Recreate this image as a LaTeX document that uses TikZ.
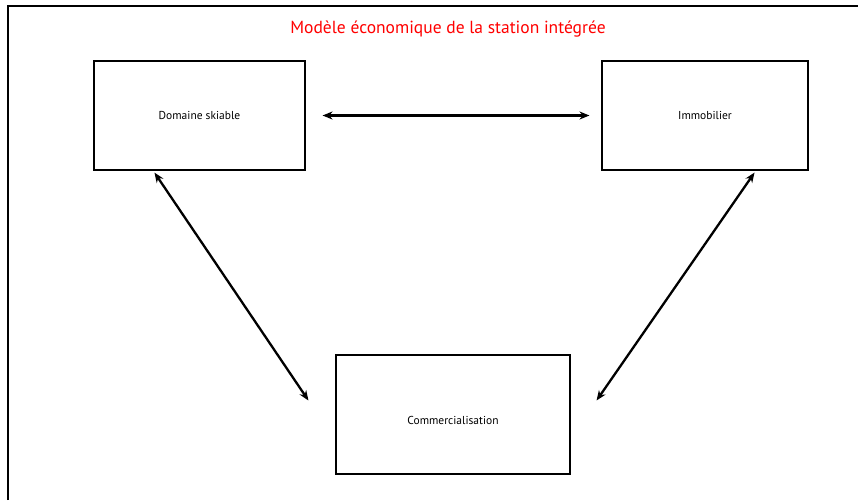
\documentclass[tikz,border=0pt]{standalone}
\usepackage{fontspec}
\setmainfont{PT Sans}
\usetikzlibrary{arrows.meta}

\begin{document}
\begin{tikzpicture}[x=1pt,y=-1pt,
    bloc/.style={draw,line width=1.1pt,inner sep=0pt,font=\fontsize{11.5}{13}\selectfont},
    lien/.style={line width=2.3pt,{Stealth[length=10pt,width=8pt]}-{Stealth[length=10pt,width=8pt]}}]
  \useasboundingbox (0,0) rectangle (858,500);
  \draw[line width=1.3pt] (8,500) -- (8,6) -- (858,6);

  \node[text=red,font=\fontsize{17.5}{20}\selectfont] (titre) at (448,29) {Modèle économique de la station intégrée};

  \node[bloc,minimum width=211pt,minimum height=109pt] (dom) at (199.5,115.5) {Domaine skiable};
  \node[bloc,minimum width=206pt,minimum height=109pt] (immo) at (705,115.5) {Immobilier};
  \node[bloc,minimum width=234pt,minimum height=119pt,text height=21.5pt,text depth=2.5pt] (comm) at (453,414.5) {Commercialisation};

  \draw[lien,shorten <=17pt,shorten >=12pt] (dom.east) -- (immo.west);
  \draw[lien] ([xshift=61pt,yshift=-2pt]dom.south west) -- ([xshift=-27pt,yshift=14pt]comm.west);
  \draw[lien] ([xshift=-54pt,yshift=-2pt]immo.south east) -- ([xshift=26pt,yshift=14pt]comm.east);
\end{tikzpicture}
\end{document}
